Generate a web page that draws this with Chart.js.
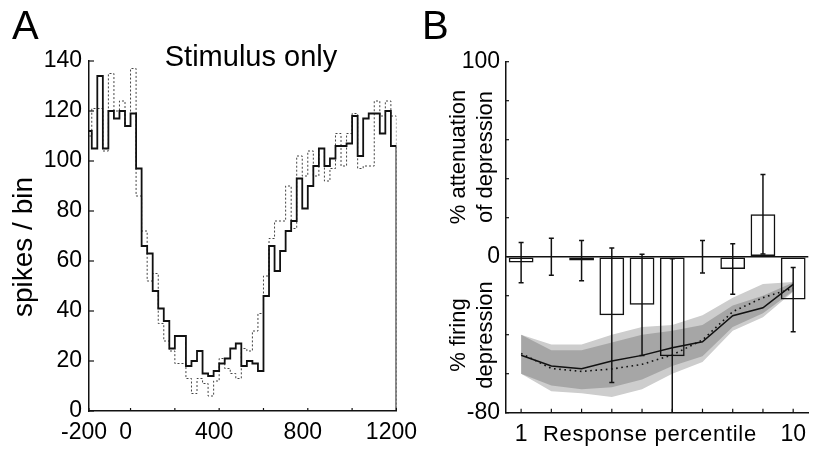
<!DOCTYPE html>
<html>
<head>
<meta charset="utf-8">
<script src="https://cdn.jsdelivr.net/npm/chart.js@4.4.1/dist/chart.umd.min.js"></script>
<style>
  body { margin: 0; background: #fff; }
  #wrap { position: relative; width: 814px; height: 454px; overflow: hidden; font-family: 'Liberation Sans', Arial, sans-serif; color: #000; }
  canvas { position: absolute; top: 0; }
  .lbl { position: absolute; white-space: nowrap; line-height: 1; }
  .rot { position: absolute; white-space: nowrap; text-align: center; transform: translate(-50%, -50%) rotate(-90deg); }
</style>
</head>
<body>
<div id="wrap">
  <canvas id="chartA" width="430" height="454" style="left:0"></canvas>
  <canvas id="chartB" width="394" height="454" style="left:420px"></canvas>
  <div class="lbl" style="left:12px; top:5px; font-size:40px">A</div>
  <div class="lbl" style="left:422px; top:5px; font-size:40px">B</div>
  <div class="lbl" style="left:251px; top:42px; font-size:29px; transform:translateX(-50%)">Stimulus only</div>
  <div class="rot" style="left:23px; top:247px; font-size:28px; line-height:28px">spikes / bin</div>
  <div class="rot" style="left:471px; top:157px; font-size:22px; line-height:27px">% attenuation<br>of depression</div>
  <div class="rot" style="left:471px; top:335px; font-size:22px; line-height:27px">% firing<br>depression</div>
  <div class="lbl" style="left:543px; top:423px; font-size:22px; letter-spacing:0.7px">Response percentile</div>
</div>
<script>
// ---- panel A: PSTH, 25 ms bins (first bin is a half bin at the axis origin)
const xMinA = -187.5;
const xMaxA = 1200;
const binWidthA = 25;
const solidCounts = [112, 105, 134, 105, 120, 117, 120, 114, 119, 97,
  66, 63, 48, 41, 36, 25, 30, 30, 18, 20,
  24, 15, 14, 16, 19, 21, 25, 27, 18, 20,
  19, 16, 46, 66, 56, 64, 72, 76, 93, 81,
  90, 98, 105, 98, 101, 106, 106, 107, 118, 102,
  117, 119, 119, 111, 120, 106];
const dottedCounts = [110, 121, 121, 104, 135, 120, 124, 114, 137, 86,
  72, 52, 55, 35, 28, 24, 19, 19, 13, 7,
  13, 11, 6, 12, 21, 17, 15, 13, 25, 24,
  32, 39, 54, 69, 76, 76, 90, 73, 102, 94,
  104, 94, 105, 92, 97, 111, 98, 111, 119, 97,
  98, 98, 124, 118, 124, 118];
const xTicksA = [xMinA, 0, 200, 400, 600, 800, 1000, 1200];
const xTickLabelsA = ['-200', '0', '', '400', '', '800', '', '1200'];

// ---- panel B
const percentiles = ['1', '2', '3', '4', '5', '6', '7', '8', '9', '10'];
const attenuation = [-3, 0, -2, -30, -24.7, -51, 0, -6.3, 21.8, -22];
const attenuationErr = [10.3, 9.5, 10.3, 34.5, 26, 50, 8.3, 13, 20.4, 16.5];
const depressionSolid = [-50.5, -56, -57.4, -53.5, -50.6, -46.7, -43.6, -30.3, -26.2, -14.2];
const depressionDotted = [-49.6, -57.3, -58.8, -57.6, -55.2, -50.4, -42.7, -28.2, -21, -16.2];
const outerHigh = [-40, -45, -45, -40, -36, -35, -30, -21, -14, -13];
const outerLow = [-60, -69, -70, -72, -68, -60, -54, -38, -31, -18];
const innerHigh = [-40, -48, -48, -44, -40, -38, -35, -25, -20, -13.2];
const innerLow = [-60, -66, -68, -67, -63, -56, -51, -36, -29, -17.6];
const xTickLabelsB = ['1', '', '', '', '', '', '', '', '', '10'];
const yTickLabelsB = { '100': '100', '0': '0', '-80': '-80' };

Chart.defaults.font.family = "'Liberation Sans', Arial, sans-serif";
Chart.defaults.font.size = 23;
Chart.defaults.color = '#000';

// ticks pointing into the plot
const innerTicks = {
  id: 'innerTicks',
  afterDraw(chart, args, opts) {
    const ctx = chart.ctx;
    ctx.save();
    ctx.strokeStyle = '#111';
    ctx.lineWidth = 1.2;
    ['x', 'y'].forEach(id => {
      const scale = chart.scales[id];
      const len = opts[id];
      scale.ticks.forEach((t, i) => {
        const p = scale.getPixelForTick(i);
        ctx.beginPath();
        if (id === 'x') { ctx.moveTo(p, scale.top); ctx.lineTo(p, scale.top - len); }
        else { ctx.moveTo(scale.right, p); ctx.lineTo(scale.right + len, p); }
        ctx.stroke();
      });
    });
    ctx.restore();
  }
};

const errorBars = {
  id: 'errorBars',
  afterDatasetsDraw(chart) {
    const ctx = chart.ctx;
    const y = chart.scales.y;
    const area = chart.chartArea;
    const meta = chart.getDatasetMeta(0);
    ctx.save();
    ctx.beginPath();
    ctx.rect(area.left, area.top - 2, area.right - area.left, area.bottom - area.top + 2);
    ctx.clip();
    ctx.strokeStyle = '#111';
    ctx.lineWidth = 1.5;
    meta.data.forEach((bar, i) => {
      const top = y.getPixelForValue(attenuation[i] + attenuationErr[i]);
      const bot = y.getPixelForValue(attenuation[i] - attenuationErr[i]);
      ctx.beginPath();
      ctx.moveTo(bar.x, top); ctx.lineTo(bar.x, bot);
      ctx.moveTo(bar.x - 2.5, top); ctx.lineTo(bar.x + 2.5, top);
      ctx.moveTo(bar.x - 2.5, bot); ctx.lineTo(bar.x + 2.5, bot);
      ctx.stroke();
    });
    ctx.restore();
  }
};

function stairs(counts) {
  const pts = counts.map((c, k) => ({ x: k === 0 ? xMinA : xMinA + binWidthA * (k - 0.5), y: c }));
  pts.push({ x: xMaxA, y: 0 });
  return pts;
}

const configA = {
  type: 'line',
  data: {
    datasets: [{
      data: stairs(solidCounts),
      stepped: true,
      borderColor: '#111',
      borderWidth: 1.8,
      pointRadius: 0
    }, {
      data: stairs(dottedCounts),
      stepped: true,
      borderColor: '#444',
      borderWidth: 1,
      borderDash: [2, 2],
      pointRadius: 0
    }]
  },
  options: {
    responsive: false,
    devicePixelRatio: 1,
    animation: false,
    events: [],
    layout: { padding: { left: 0, top: 61, right: 32.7, bottom: 0 } },
    plugins: { legend: { display: false }, tooltip: { enabled: false }, innerTicks: { x: 3, y: 5 } },
    scales: {
      x: {
        type: 'linear',
        min: xMinA,
        max: xMaxA,
        afterBuildTicks: scale => { scale.ticks = xTicksA.map(v => ({ value: v })); },
        afterFit: scale => { scale.height = 43; },
        grid: { display: false, drawTicks: false },
        border: { color: '#111', width: 1.5 },
        ticks: { callback: (v, i) => xTickLabelsA[i], autoSkip: false, maxRotation: 0, padding: 8, labelOffset: -5 }
      },
      y: {
        min: 0,
        max: 140,
        afterFit: scale => { scale.width = 89; },
        grid: { display: false, drawTicks: false },
        border: { color: '#111', width: 1.5 },
        ticks: { stepSize: 20, padding: 7 }
      }
    }
  },
  plugins: [innerTicks]
};

const configB = {
  type: 'bar',
  data: {
    labels: percentiles,
    datasets: [{
      data: attenuation,
      backgroundColor: 'rgba(0,0,0,0)',
      borderColor: '#111',
      borderWidth: 1.5,
      borderSkipped: false,
      categoryPercentage: 1,
      barPercentage: 0.82,
      order: 0
    }, {
      type: 'line', data: depressionSolid, borderColor: '#111', borderWidth: 1.5,
      pointRadius: 0, fill: false, order: 1
    }, {
      type: 'line', data: depressionDotted, borderColor: '#111', borderWidth: 1.6,
      borderDash: [1.6, 3.6], pointRadius: 0, fill: false, order: 2
    }, {
      type: 'line', data: outerHigh, borderWidth: 0, borderColor: 'rgba(0,0,0,0)',
      pointRadius: 0, fill: false, order: 5
    }, {
      type: 'line', data: outerLow, borderWidth: 0, borderColor: 'rgba(0,0,0,0)',
      backgroundColor: '#cdcdcd', pointRadius: 0, fill: '-1', order: 6
    }, {
      type: 'line', data: innerHigh, borderWidth: 0, borderColor: 'rgba(0,0,0,0)',
      pointRadius: 0, fill: false, order: 3
    }, {
      type: 'line', data: innerLow, borderWidth: 0, borderColor: 'rgba(0,0,0,0)',
      backgroundColor: '#a6a6a6', pointRadius: 0, fill: '-1', order: 4
    }]
  },
  options: {
    responsive: false,
    devicePixelRatio: 1,
    animation: false,
    events: [],
    layout: { padding: { left: 0, top: 61.7, right: 0.5, bottom: 0 } },
    plugins: { legend: { display: false }, tooltip: { enabled: false }, innerTicks: { x: 4, y: 3 } },
    scales: {
      x: {
        afterFit: scale => { scale.height = 41.3; },
        grid: { display: false, drawTicks: false },
        border: { color: '#111', width: 1.5 },
        ticks: { callback: (v, i) => xTickLabelsB[i], autoSkip: false, maxRotation: 0, padding: 8 }
      },
      y: {
        min: -80,
        max: 100,
        afterFit: scale => { scale.width = 86; },
        grid: {
          drawTicks: false,
          color: c => (c.tick && c.tick.value === 0 ? '#111' : 'rgba(0,0,0,0)'),
          lineWidth: 1.5
        },
        border: { color: '#111', width: 1.5 },
        ticks: { stepSize: 20, padding: 6, callback: v => yTickLabelsB[String(v)] || '' }
      }
    }
  },
  plugins: [innerTicks, errorBars]
};

const chartA = new Chart(document.getElementById('chartA'), configA);
const chartB = new Chart(document.getElementById('chartB'), configB);
</script>
</body>
</html>
